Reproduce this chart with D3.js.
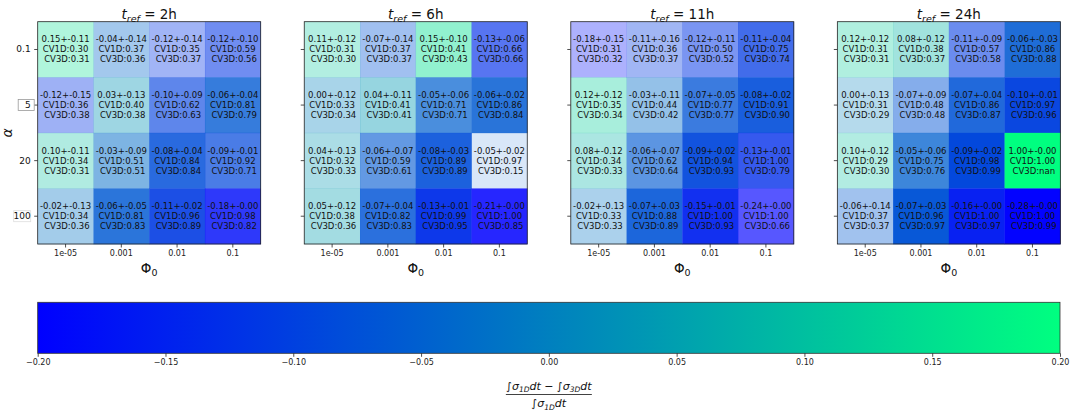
<!DOCTYPE html>
<html><head><meta charset="utf-8">
<script src="https://cdn.jsdelivr.net/npm/d3@7"></script>
<style>
body{margin:0;background:#fff;}
svg{display:block;font-family:"DejaVu Sans",sans-serif;}
text{white-space:pre;}
</style></head>
<body><svg id="c" width="1081" height="411"></svg>
<script>
const times = ["2h","6h","11h","24h"];
const alphas = ["0.1","5","20","100"];
const phis = ["1e-05","0.001","0.01","0.1"];
const cbarTicks = [-0.2,-0.15,-0.1,-0.05,0,0.05,0.1,0.15,0.2];

// [panel][row alpha][col phi]
const meanVals = [
 [[0.15,-0.04,-0.12,-0.12],[-0.12,0.03,-0.10,-0.06],[0.10,-0.03,-0.08,-0.09],[-0.02,-0.06,-0.11,-0.18]],
 [[0.11,-0.07,0.15,-0.13],[0.00,0.04,-0.05,-0.06],[0.04,-0.06,-0.08,-0.05],[0.05,-0.07,-0.13,-0.21]],
 [[-0.18,-0.11,-0.12,-0.11],[0.12,-0.03,-0.07,-0.08],[0.08,-0.06,-0.09,-0.13],[-0.02,-0.07,-0.15,-0.24]],
 [[0.12,0.08,-0.11,-0.06],[0.00,-0.07,-0.07,-0.10],[0.10,-0.05,-0.09,1.00],[-0.06,-0.07,-0.16,-0.28]]
];
const errVals = [
 [[0.11,0.14,0.14,0.10],[0.15,0.13,0.09,0.04],[0.11,0.09,0.04,0.01],[0.13,0.05,0.02,0.00]],
 [[0.12,0.14,0.10,0.06],[0.12,0.11,0.06,0.02],[0.13,0.07,0.03,0.02],[0.12,0.04,0.01,0.00]],
 [[0.15,0.16,0.11,0.04],[0.12,0.11,0.05,0.02],[0.12,0.07,0.02,0.01],[0.13,0.03,0.01,0.00]],
 [[0.12,0.12,0.09,0.03],[0.13,0.09,0.04,0.01],[0.12,0.06,0.02,0.00],[0.14,0.03,0.00,0.00]]
];
const cv1dVals = [
 [[0.30,0.37,0.35,0.59],[0.36,0.40,0.62,0.81],[0.34,0.51,0.84,0.92],[0.34,0.81,0.96,0.98]],
 [[0.31,0.37,0.41,0.66],[0.33,0.41,0.71,0.86],[0.32,0.59,0.89,0.97],[0.38,0.82,0.99,1.00]],
 [[0.31,0.36,0.50,0.75],[0.35,0.44,0.77,0.91],[0.34,0.62,0.94,1.00],[0.33,0.88,1.00,1.00]],
 [[0.31,0.38,0.57,0.86],[0.31,0.48,0.86,0.97],[0.29,0.75,0.98,1.00],[0.37,0.96,1.00,1.00]]
];
const cv3dVals = [
 [[0.31,0.36,0.37,0.56],[0.38,0.38,0.63,0.79],[0.31,0.51,0.84,0.71],[0.36,0.83,0.89,0.82]],
 [[0.30,0.37,0.43,0.66],[0.34,0.41,0.71,0.84],[0.33,0.61,0.89,0.15],[0.36,0.83,0.95,0.85]],
 [[0.32,0.37,0.52,0.74],[0.34,0.42,0.77,0.90],[0.33,0.64,0.93,0.79],[0.33,0.89,0.93,0.66]],
 [[0.31,0.37,0.58,0.88],[0.29,0.48,0.87,0.96],[0.30,0.76,0.99,NaN],[0.37,0.97,0.97,0.99]]
];

const svg = d3.select("#c");
const W = 223, H = 222.3, top0 = 21.7;
const panelX = d3.scaleBand().domain(times).range([37.7, 1060.3]).paddingInner(43.6/266.6).paddingOuter(0);
const norm = d3.scaleLinear().domain([-0.2,0.2]).range([0,1]).clamp(true);
const winter = t => d3.rgb(0, 255*t, 255*(1-0.5*t));
const fmt = v => isNaN(v) ? "nan" : v.toFixed(2);

times.forEach((tm, p) => {
  const g = svg.append("g").attr("transform", `translate(${panelX(tm)},${top0})`);
  const x = d3.scaleBand().domain(phis).range([0, W]);
  const y = d3.scaleBand().domain(alphas).range([0, H]);
  const cells = [];
  alphas.forEach((a, i) => phis.forEach((f, j) => cells.push({a, f, m: meanVals[p][i][j], e: errVals[p][i][j], c1: cv1dVals[p][i][j], c3: cv3dVals[p][i][j]})));
  g.selectAll("rect.cell").data(cells).join("rect").attr("class","cell")
    .attr("x", d => x(d.f)).attr("y", d => y(d.a))
    .attr("width", x.bandwidth()+0.3).attr("height", y.bandwidth()+0.3)
    .attr("fill", d => winter(norm(d.m)))
    .attr("fill-opacity", d => isNaN(d.c3) ? 1 : d.c3);
  const tg = g.selectAll("text.cell").data(cells).join("text").attr("class","cell")
    .attr("font-size", 8.5).attr("fill", "#111").attr("text-anchor", "middle");
  tg.each(function(d){
    const cx = x(d.f) + x.bandwidth()/2, cy = y(d.a) + y.bandwidth()/2;
    const t = d3.select(this);
    [`${fmt(d.m)}+-${fmt(d.e)}`, `CV1D:${fmt(d.c1)}`, ` CV3D:${fmt(d.c3)}`].forEach((s, k) => {
      t.append("tspan").attr("x", cx).attr("y", cy + (k-1)*10 + 3).text(s);
    });
  });
  // axes
  const ax = g.append("g").attr("transform", `translate(0,${H})`)
    .call(d3.axisBottom(x).tickSize(3.5).tickPadding(3));
  ax.select(".domain").remove();
  ax.selectAll("text").attr("font-size", 8).attr("fill", "#222").attr("font-family", "DejaVu Sans");
  ax.selectAll("line").attr("stroke", "#222").attr("stroke-width", 0.8);
  const ay = g.append("g").call(d3.axisLeft(y).tickSize(3.5).tickPadding(3.5));
  ay.select(".domain").remove();
  ay.selectAll("line").attr("stroke", "#222").attr("stroke-width", 0.8);
  if (p === 0) {
    ay.selectAll(".tick").each(function(d){
      if (d === "5" || d === "100") {
        const tk = d3.select(this);
        const bw = d === "5" ? 16 : 17;
        tk.insert("rect", "text").attr("x", -7 - bw + (d==="5"?3.5:0)).attr("y", -5.5).attr("width", bw).attr("height", 11)
          .attr("fill", "#fff").attr("stroke", d === "5" ? "#999" : "#ddd").attr("stroke-width", 0.8);
      }
    });
    ay.selectAll("text").attr("font-size", 9).attr("fill", "#111").attr("font-family", "DejaVu Sans");
  } else {
    ay.selectAll("text").remove();
  }
  g.append("rect").attr("width", W).attr("height", H).attr("fill", "none").attr("stroke", "#222").attr("stroke-width", 0.8);
  // title
  const tt = g.append("text").attr("x", W/2).attr("y", -3.2).attr("text-anchor", "middle").attr("font-size", 13.5).attr("fill", "#111");
  tt.append("tspan").attr("font-style", "italic").text("t");
  tt.append("tspan").attr("font-style", "italic").attr("font-size", 9.5).attr("dy", 3).text("ref");
  tt.append("tspan").attr("dy", -3).text(" = " + tm);
  // x label
  const xl = g.append("text").attr("x", W/2).attr("y", H + 29.5).attr("text-anchor", "middle").attr("font-size", 13.5).attr("fill", "#111");
  xl.append("tspan").text("Φ");
  xl.append("tspan").attr("font-size", 9.5).attr("dy", 3).text("0");
  if (p === 0) {
    g.append("text").attr("transform", `translate(-25.3,${H/2}) rotate(-90)`).attr("text-anchor", "middle")
      .attr("font-size", 14).attr("font-style", "italic").attr("fill", "#111").text("α");
  }
});

// colorbar
const cbX0 = 37.7, cbX1 = 1060, cbY = 302.3, cbH = 51;
const cb = d3.scaleLinear().domain([-0.2, 0.2]).range([cbX0, cbX1]);
const defs = svg.append("defs");
const grad = defs.append("linearGradient").attr("id", "winter").attr("x1", "0%").attr("x2", "100%");
d3.range(0, 1.0001, 0.1).forEach(t => grad.append("stop").attr("offset", `${t*100}%`).attr("stop-color", winter(t)));
svg.append("rect").attr("x", cbX0).attr("y", cbY).attr("width", cbX1 - cbX0).attr("height", cbH).attr("fill", "url(#winter)")
  .attr("stroke", "#333").attr("stroke-width", 0.8);
const cax = svg.append("g").attr("transform", `translate(0,${cbY + cbH})`)
  .call(d3.axisBottom(cb).tickValues(cbarTicks).tickSize(3.5).tickPadding(3).tickFormat(v => d3.format(".2f")(v).replace("-", "−")));
cax.select(".domain").remove();
cax.selectAll("text").attr("font-size", 8).attr("fill", "#222").attr("font-family", "DejaVu Sans");
cax.selectAll("line").attr("stroke", "#222").attr("stroke-width", 0.8);

// colorbar label (fraction)
const lx = cb(0);
function integ(sel, sub) {
  sel.append("tspan").text("∫");
  sel.append("tspan").attr("font-style", "italic").text("σ");
  sel.append("tspan").attr("font-style", "italic").attr("font-size", 7.5).attr("dy", 2.5).text(sub);
  sel.append("tspan").attr("font-style", "italic").attr("dy", -2.5).text("dt");
}
const num = svg.append("text").attr("x", lx).attr("y", 389.5).attr("text-anchor", "middle").attr("font-size", 11).attr("fill", "#111");
integ(num, "1D");
num.append("tspan").text(" − ");
integ(num, "3D");
svg.append("line").attr("x1", lx - 43).attr("x2", lx + 43).attr("y1", 394.5).attr("y2", 394.5).attr("stroke", "#111").attr("stroke-width", 0.8);
const den = svg.append("text").attr("x", lx).attr("y", 407).attr("text-anchor", "middle").attr("font-size", 11).attr("fill", "#111");
integ(den, "1D");
</script></body></html>
